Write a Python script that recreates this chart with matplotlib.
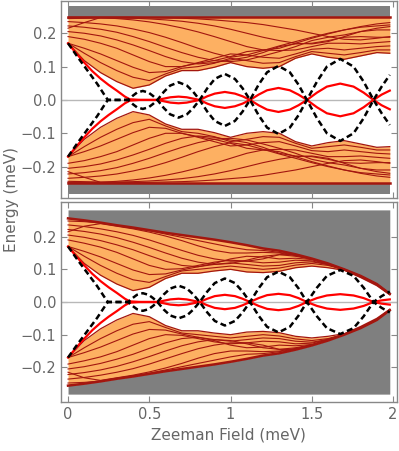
import matplotlib.pyplot as plt
import numpy as np

# Zeeman field samples (meV)
zeeman = [0.0, 0.1, 0.2, 0.3, 0.4, 0.5, 0.6, 0.7, 0.8, 0.9, 1.0,
          1.1, 1.2, 1.3, 1.4, 1.5, 1.6, 1.7, 1.8, 1.9, 1.98]

# ---- top panel, upper continuum (lower continuum is the mirror image) ----
top_edge = [0.250] * 21
top_gap = [0.170, 0.118, 0.082, 0.055, 0.035, 0.045, 0.072, 0.088, 0.088, 0.098, 0.112,
           0.100, 0.095, 0.100, 0.125, 0.138, 0.128, 0.122, 0.132, 0.142, 0.140]
top_levels = [
    [0.170, 0.140, 0.112, 0.088, 0.068, 0.058, 0.078, 0.095, 0.100, 0.110, 0.125,
     0.118, 0.110, 0.112, 0.130, 0.145, 0.140, 0.135, 0.142, 0.150, 0.150],
    [0.170, 0.155, 0.138, 0.118, 0.098, 0.082, 0.085, 0.100, 0.112, 0.125, 0.138,
     0.135, 0.128, 0.125, 0.138, 0.152, 0.155, 0.150, 0.155, 0.160, 0.162],
    [0.190, 0.182, 0.170, 0.155, 0.135, 0.115, 0.100, 0.100, 0.110, 0.118, 0.130,
     0.145, 0.150, 0.148, 0.150, 0.160, 0.170, 0.170, 0.168, 0.172, 0.175],
    [0.205, 0.200, 0.192, 0.180, 0.165, 0.148, 0.130, 0.115, 0.108, 0.112, 0.120,
     0.128, 0.142, 0.160, 0.168, 0.170, 0.178, 0.188, 0.190, 0.188, 0.188],
    [0.222, 0.218, 0.212, 0.203, 0.190, 0.175, 0.158, 0.142, 0.128, 0.118, 0.115,
     0.120, 0.132, 0.145, 0.160, 0.178, 0.188, 0.195, 0.205, 0.210, 0.210],
    [0.235, 0.232, 0.228, 0.222, 0.213, 0.202, 0.188, 0.172, 0.155, 0.140, 0.128,
     0.135, 0.148, 0.162, 0.175, 0.188, 0.200, 0.210, 0.218, 0.222, 0.225],
    [0.215, 0.232, 0.247, 0.244, 0.240, 0.234, 0.226, 0.216, 0.204, 0.190, 0.175,
     0.160, 0.150, 0.155, 0.170, 0.185, 0.198, 0.210, 0.220, 0.228, 0.232],
    [0.244, 0.245, 0.246, 0.246, 0.245, 0.243, 0.240, 0.236, 0.230, 0.222, 0.212,
     0.200, 0.188, 0.178, 0.170, 0.168, 0.175, 0.190, 0.205, 0.215, 0.220],
    [0.248, 0.248, 0.248, 0.248, 0.248, 0.247, 0.246, 0.245, 0.243, 0.240, 0.236,
     0.232, 0.226, 0.218, 0.210, 0.200, 0.190, 0.182, 0.180, 0.185, 0.190],
]

# ---- bottom panel, upper continuum bounded by a closing envelope ----
bot_edge = [0.256, 0.250, 0.243, 0.235, 0.228, 0.220, 0.212, 0.205, 0.198, 0.191, 0.183,
            0.174, 0.164, 0.157, 0.146, 0.133, 0.118, 0.100, 0.080, 0.055, 0.025]
bot_gap = [0.170, 0.118, 0.082, 0.055, 0.035, 0.045, 0.072, 0.088, 0.088, 0.095, 0.100,
           0.092, 0.090, 0.094, 0.105, 0.110, 0.105, 0.097, 0.075, 0.050, 0.022]
bot_levels = [
    [0.170, 0.140, 0.112, 0.088, 0.068, 0.060, 0.078, 0.095, 0.100, 0.105, 0.110,
     0.105, 0.100, 0.104, 0.113, 0.118, 0.112, 0.099, 0.078, 0.053, 0.024],
    [0.170, 0.155, 0.138, 0.118, 0.098, 0.084, 0.086, 0.098, 0.108, 0.115, 0.120,
     0.115, 0.110, 0.112, 0.120, 0.123, 0.115, 0.099, 0.079, 0.054, 0.024],
    [0.190, 0.180, 0.168, 0.152, 0.132, 0.112, 0.100, 0.102, 0.112, 0.122, 0.128,
     0.125, 0.120, 0.122, 0.128, 0.126, 0.114, 0.098, 0.079, 0.054, 0.024],
    [0.205, 0.198, 0.188, 0.175, 0.160, 0.142, 0.125, 0.112, 0.108, 0.118, 0.132,
     0.140, 0.138, 0.132, 0.134, 0.130, 0.116, 0.099, 0.079, 0.054, 0.024],
    [0.222, 0.216, 0.208, 0.197, 0.183, 0.167, 0.150, 0.134, 0.122, 0.115, 0.118,
     0.128, 0.140, 0.145, 0.140, 0.131, 0.117, 0.099, 0.079, 0.054, 0.024],
    [0.236, 0.231, 0.224, 0.215, 0.204, 0.190, 0.174, 0.158, 0.143, 0.132, 0.125,
     0.125, 0.132, 0.145, 0.145, 0.132, 0.117, 0.100, 0.080, 0.055, 0.025],
    [0.215, 0.232, 0.240, 0.232, 0.224, 0.214, 0.202, 0.188, 0.172, 0.158, 0.150,
     0.150, 0.152, 0.150, 0.142, 0.132, 0.117, 0.100, 0.080, 0.055, 0.025],
    [0.248, 0.246, 0.242, 0.234, 0.226, 0.218, 0.208, 0.198, 0.188, 0.178, 0.168,
     0.160, 0.158, 0.152, 0.144, 0.132, 0.117, 0.100, 0.080, 0.055, 0.025],
]

# ---- in-gap states (both signs are drawn) ----
mode_x = [0.0, 0.05, 0.1, 0.15, 0.2, 0.25, 0.3, 0.35, 0.38, 0.45, 0.55,
          0.59, 0.63, 0.68, 0.73, 0.77, 0.81,
          0.857, 0.903, 0.965, 1.027, 1.074, 1.12,
          1.173, 1.225, 1.295, 1.365, 1.418, 1.47,
          1.532, 1.593, 1.675, 1.757, 1.819, 1.88, 1.93, 1.98]
top_red = [0.170, 0.140, 0.112, 0.086, 0.064, 0.045, 0.028, 0.010, 0.002, 0.0, 0.0,
           0.004, 0.008, 0.010, 0.008, 0.004, 0.0,
           -0.011, -0.019, -0.024, -0.019, -0.011, 0.0,
           0.016, 0.029, 0.036, 0.029, 0.016, 0.0,
           -0.022, -0.040, -0.049, -0.040, -0.022, 0.0, 0.016, 0.028]
bot_red = [0.170, 0.140, 0.112, 0.086, 0.064, 0.045, 0.028, 0.010, 0.002, 0.0, 0.0,
           0.004, 0.008, 0.010, 0.008, 0.004, 0.0,
           -0.010, -0.018, -0.022, -0.018, -0.010, 0.0,
           0.012, 0.021, 0.025, 0.021, 0.012, 0.0,
           -0.012, -0.020, -0.024, -0.020, -0.012, 0.0, 0.005, 0.008]

dash_x = [0.0, 0.06, 0.12, 0.18, 0.22, 0.245, 0.37,
          0.397, 0.424, 0.46, 0.496, 0.523, 0.55,
          0.589, 0.628, 0.68, 0.732, 0.771, 0.81,
          0.857, 0.903, 0.965, 1.027, 1.074, 1.12,
          1.173, 1.225, 1.295, 1.365, 1.418, 1.47,
          1.532, 1.593, 1.675, 1.757, 1.819, 1.88, 1.93, 1.98]
top_dash = [0.170, 0.128, 0.088, 0.048, 0.018, 0.0, 0.0,
            0.012, 0.022, 0.027, 0.022, 0.012, 0.0,
            -0.024, -0.043, -0.053, -0.043, -0.024, 0.0,
            0.035, 0.063, 0.078, 0.063, 0.035, 0.0,
            -0.046, -0.083, -0.102, -0.083, -0.046, 0.0,
            0.055, 0.100, 0.123, 0.100, 0.055, 0.0, -0.040, -0.075]
bot_dash = [0.170, 0.128, 0.088, 0.048, 0.018, 0.0, 0.0,
            0.012, 0.022, 0.027, 0.022, 0.012, 0.0,
            -0.023, -0.041, -0.050, -0.041, -0.023, 0.0,
            0.032, 0.058, 0.072, 0.058, 0.032, 0.0,
            -0.042, -0.076, -0.093, -0.076, -0.042, 0.0,
            0.044, 0.080, 0.098, 0.080, 0.044, 0.0, -0.018, -0.032]

GRAY = '#7f7f7f'
ORANGE = '#fdb062'
DARKRED = '#a3160f'
TEXT = '#666666'


def draw_panel(ax, edge, gap, levels, red, dash):
    x = np.array(zeeman)
    edge = np.array(edge)
    gap = np.array(gap)
    for s in (1, -1):
        ax.fill_between(x, s * edge, s * 0.282, color=GRAY, lw=0, zorder=1)
        ax.fill_between(x, s * gap, s * edge, color=ORANGE, lw=0, zorder=2)
        for lev in levels:
            ax.plot(x, s * np.array(lev), color=DARKRED, lw=0.8, zorder=3)
        ax.plot(x, s * gap, color=DARKRED, lw=0.9, zorder=3)
        ax.plot(x, s * edge, color=DARKRED, lw=1.8, zorder=3)
    ax.axhline(0, color='#b8b8b8', lw=1.0, zorder=2.5)
    for s in (1, -1):
        ax.plot(mode_x, s * np.array(red), color='red', lw=1.6, zorder=4)
        ax.plot(dash_x, s * np.array(dash), color='black', lw=1.8,
                ls=(0, (2.4, 1.4)), zorder=5)

    ax.set_xlim(-0.043, 2.022)
    ax.set_xticks([0, 0.5, 1, 1.5, 2])
    ax.set_xticklabels(['0', '0.5', '1', '1.5', '2'])
    ax.set_yticks([-0.2, -0.1, 0.0, 0.1, 0.2])
    ax.set_yticklabels(['\u22120.2', '\u22120.1', '0.0', '0.1', '0.2'])
    ax.tick_params(direction='in', length=4, width=0.8, color='#888888',
                   labelcolor=TEXT, labelsize=10.5, top=True, right=True)
    for sp in ax.spines.values():
        sp.set_color('#888888')
        sp.set_linewidth(1.0)


fig = plt.figure(figsize=(3.99, 4.51), dpi=100)
ax_top = fig.add_axes([0.153, 0.561, 0.841, 0.437])
ax_bot = fig.add_axes([0.153, 0.108, 0.841, 0.444])

draw_panel(ax_top, top_edge, top_gap, top_levels, top_red, top_dash)
ax_top.set_ylim(-0.294, 0.297)
ax_top.tick_params(labelbottom=False)

draw_panel(ax_bot, bot_edge, bot_gap, bot_levels, bot_red, bot_dash)
ax_bot.set_ylim(-0.307, 0.306)
ax_bot.set_xlabel('Zeeman Field (meV)', color=TEXT, fontsize=11, labelpad=4)

fig.text(0.03, 0.557, 'Energy (meV)', rotation=90, color=TEXT, fontsize=11,
         ha='center', va='center')

fig.savefig('out.png', dpi=100)
